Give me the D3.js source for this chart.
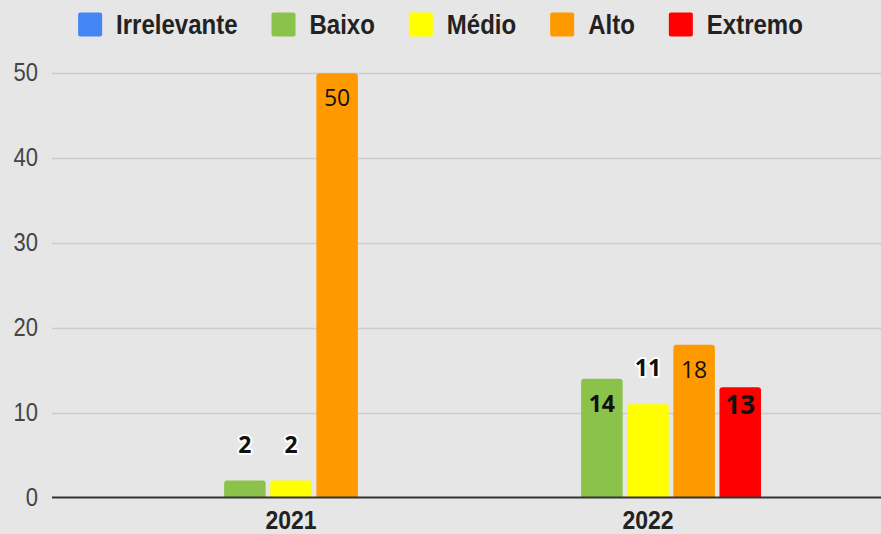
<!DOCTYPE html>
<html>
<head>
<meta charset="utf-8">
<script src="https://cdn.jsdelivr.net/npm/d3@7"></script>
<style>
  body { margin: 0; background: #e6e6e6; }
  svg { display: block; }
</style>
</head>
<body>
<div id="chart"></div>
<script>
// Data
var years = ["2021", "2022"];
var seriesNames = ["Irrelevante", "Baixo", "Médio", "Alto", "Extremo"];
var irrelevante = [0, 0];
var baixo = [2, 14];
var medio = [2, 11];
var alto = [50, 18];
var extremo = [0, 13];
var yTicks = [0, 10, 20, 30, 40, 50];

var seriesValues = [irrelevante, baixo, medio, alto, extremo];

// Styles per series
var colors = ["#4285f4", "#8bc34a", "#ffff00", "#ff9900", "#ff0000"];
var labelWeight = ["bold", "bold", "bold", "normal", "bold"];
var labelSize = [23, 23, 23, 23, 26];

var svgWidth = 881;
var svgHeight = 534;

var svg = d3.select("#chart")
  .append("svg")
  .attr("width", svgWidth)
  .attr("height", svgHeight);

svg.append("rect")
  .attr("width", svgWidth)
  .attr("height", svgHeight)
  .attr("fill", "#e6e6e6");

var plotLeft = 52;
var plotRight = 881;

// Scales
var y = d3.scaleLinear()
  .domain([0, 50])
  .range([497.5, 73.3]);

var x0 = d3.scaleBand()
  .domain(years)
  .range([112.5, 826.5])
  .paddingInner(0.367)
  .paddingOuter(0.1835);

var x1 = d3.scaleBand()
  .domain(seriesNames)
  .range([0, x0.bandwidth()])
  .paddingInner(0.1);

// Gridlines
svg.append("g")
  .selectAll("line")
  .data(yTicks.filter(d => d !== 0))
  .enter()
  .append("line")
  .attr("x1", plotLeft)
  .attr("x2", plotRight)
  .attr("y1", d => Math.round(y(d)) + 0.5)
  .attr("y2", d => Math.round(y(d)) + 0.5)
  .attr("stroke", "#cccccc")
  .attr("stroke-width", 1.5);

// Left axis (labels only)
var leftAxis = d3.axisLeft(y).tickValues(yTicks).tickSize(0).tickPadding(14);
var yAxisG = svg.append("g")
  .attr("transform", `translate(${plotLeft}, 0)`)
  .call(leftAxis);
yAxisG.select(".domain").remove();
yAxisG.selectAll("text")
  .attr("font-family", "'Liberation Sans', Arial, sans-serif")
  .attr("font-size", 22)
  .attr("fill", "#444")
  .attr("dy", "0.3em")
  .attr("transform", "scale(1,1.15)");

// Bars
function barPath(x, top, w, bottom) {
  var r = Math.min(3, (bottom - top) / 2);
  return `M${x},${bottom} L${x},${top + r} Q${x},${top} ${x + r},${top} L${x + w - r},${top} Q${x + w},${top} ${x + w},${top + r} L${x + w},${bottom} Z`;
}

var barData = [];
years.forEach(function(yr, i) {
  seriesNames.forEach(function(s, j) {
    barData.push({ year: yr, series: s, index: j, value: seriesValues[j][i] });
  });
});

svg.append("g")
  .selectAll("path")
  .data(barData.filter(d => d.value > 0))
  .enter()
  .append("path")
  .attr("d", d => barPath(x0(d.year) + x1(d.series), y(d.value), x1.bandwidth(), y(0)))
  .attr("fill", d => colors[d.index]);

// Baseline
svg.append("line")
  .attr("x1", plotLeft)
  .attr("x2", plotRight)
  .attr("y1", y(0))
  .attr("y2", y(0))
  .attr("stroke", "#333")
  .attr("stroke-width", 2);

// Value labels: inside the bar when it is tall enough, else above it
function isInside(d) { return (y(0) - y(d.value)) > 100; }

svg.append("g")
  .selectAll("text")
  .data(barData.filter(d => d.value > 0))
  .enter()
  .append("text")
  .attr("x", d => x0(d.year) + x1(d.series) + x1.bandwidth() / 2)
  .attr("y", function(d) {
    var top = y(d.value);
    if (isInside(d)) return top + (d.index === 4 ? 27 : 33);
    return top - 28;
  })
  .attr("text-anchor", "middle")
  .attr("font-family", "'Open Sans', 'Noto Sans', sans-serif")
  .attr("font-size", d => labelSize[d.index])
  .attr("font-weight", d => labelWeight[d.index])
  .attr("fill", "#111")
  .attr("stroke", d => isInside(d) ? "none" : "#fff")
  .attr("stroke-width", 4)
  .attr("stroke-linejoin", "round")
  .attr("paint-order", "stroke")
  .text(d => d.value);

// Bottom axis
var bottomAxis = d3.axisBottom(x0).tickSize(0);
var xAxisG = svg.append("g")
  .attr("transform", `translate(0, ${y(0)})`)
  .call(bottomAxis);
xAxisG.select(".domain").remove();
xAxisG.selectAll("text")
  .attr("font-family", "'Liberation Sans', Arial, sans-serif")
  .attr("font-size", 23)
  .attr("font-weight", "bold")
  .attr("fill", "#222")
  .attr("dy", null)
  .attr("y", 28.5)
  .attr("transform", "scale(1,1.12)");

// Legend
var legend = svg.append("g");
var lx = 0;
seriesNames.forEach(function(name, i) {
  var item = legend.append("g").attr("transform", `translate(${lx}, 0)`);
  item.append("rect")
    .attr("x", 0)
    .attr("y", 12.5)
    .attr("width", 24)
    .attr("height", 24)
    .attr("rx", 2)
    .attr("fill", colors[i]);
  var t = item.append("text")
    .attr("x", 38)
    .attr("y", 0)
    .attr("transform", "translate(0,34) scale(1,1.15)")
    .attr("font-family", "'Liberation Sans', Arial, sans-serif")
    .attr("font-size", 24)
    .attr("font-weight", "bold")
    .attr("fill", "#222")
    .text(name);
  lx += 38 + t.node().getComputedTextLength() + 34;
});
var legendWidth = lx - 34;
legend.attr("transform", `translate(${(svgWidth - legendWidth) / 2}, 0)`);
</script>
</body>
</html>
